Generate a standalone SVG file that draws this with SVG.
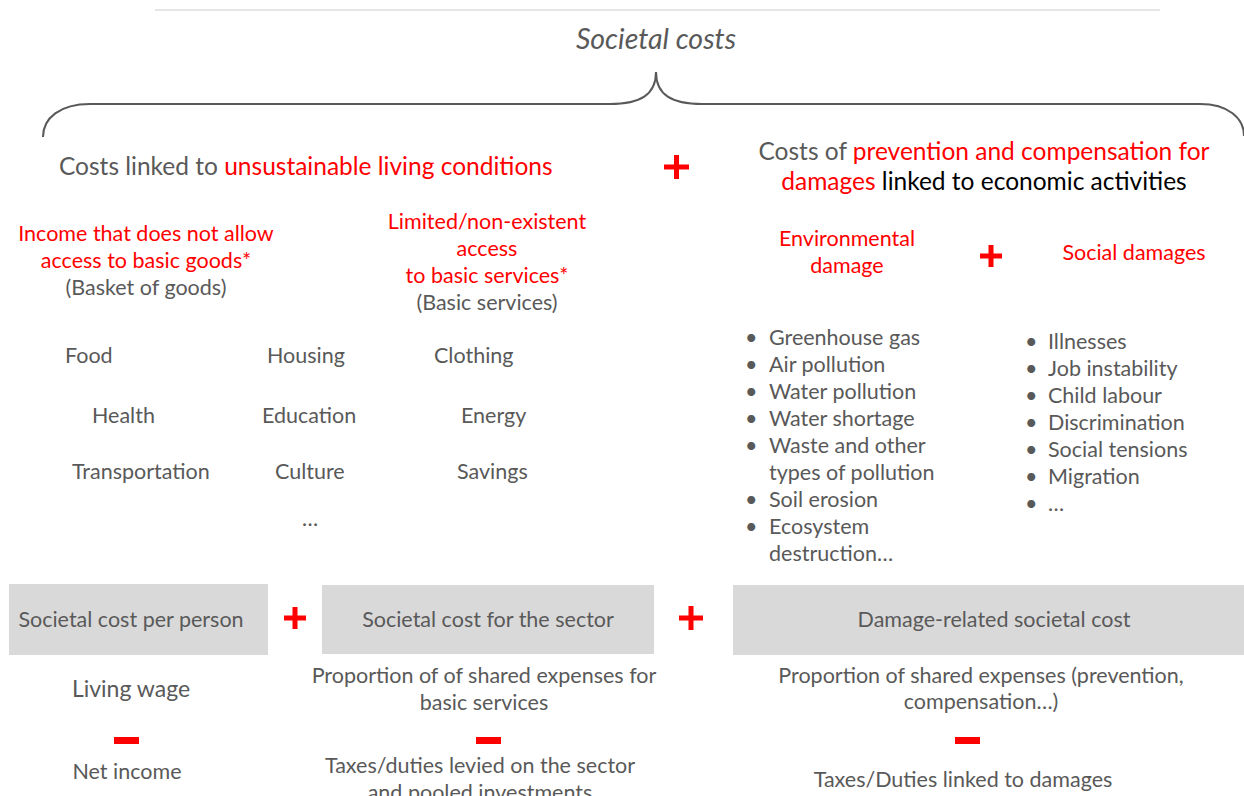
<svg xmlns="http://www.w3.org/2000/svg" width="1244" height="796" viewBox="0 0 1244 796">
<style>
text{font-family:"Source Sans Pro",Lato,"Liberation Sans",sans-serif;fill:#595959}
.r{fill:#ff0000}
.k{fill:#000}
.t{font-size:24.5px}
.m{font-size:21.5px}
.c{text-anchor:middle}
.box{fill:#d9d9d9}
.op{fill:#ff0000}
</style>
<rect width="1244" height="796" fill="#fff"/>
<line x1="155" y1="10" x2="1160" y2="10" stroke="#dcdcdc" stroke-width="1.5"/>
<g id="title">
<text x="656" y="49" class="c" font-size="28.5" font-style="italic">Societal costs</text>
</g>
<g id="connectors">
<path d="M43,137 C43,118 60,104 90,104 L610,104 C640,104 656,95 656,72 C656,95 672,104 702,104 L1200,104 C1228,104 1244,118 1244,136" fill="none" stroke="#595959" stroke-width="2"/>
</g>
<g id="living">
<text x="59" y="175" class="t">Costs linked to <tspan class="r">unsustainable living conditions</tspan></text>
</g>
<g id="plus-top">
<rect x="664" y="164.5" width="25" height="5" class="op"/>
<rect x="674" y="155" width="5" height="24" class="op"/>
</g>
<g id="damages">
<text x="984" y="160" class="t c">Costs of <tspan class="r">prevention and compensation for</tspan></text>
<text x="984" y="190" class="t c"><tspan class="r">damages</tspan> <tspan class="k">linked to economic activities</tspan></text>
</g>
<g id="income">
<text x="146" y="241" class="m c r">Income that does not allow</text>
<text x="146" y="268" class="m c r">access to basic goods*</text>
<text x="146" y="295" class="m c">(Basket of goods)</text>
</g>
<g id="access">
<text x="487" y="229" class="m c r">Limited/non-existent</text>
<text x="487" y="256" class="m c r">access</text>
<text x="487" y="283" class="m c r">to basic services*</text>
<text x="487" y="310" class="m c">(Basic services)</text>
</g>
<g id="items">
<text x="65" y="363" class="m">Food</text>
<text x="267" y="363" class="m">Housing</text>
<text x="434" y="363" class="m">Clothing</text>
<text x="92" y="423" class="m">Health</text>
<text x="262" y="423" class="m">Education</text>
<text x="461" y="423" class="m">Energy</text>
<text x="72" y="479" class="m">Transportation</text>
<text x="275" y="479" class="m">Culture</text>
<text x="457" y="479" class="m">Savings</text>
<text x="310" y="526" class="m c">…</text>
</g>
<g id="env">
<text x="847" y="246" class="m c r">Environmental</text>
<text x="847" y="273" class="m c r">damage</text>
</g>
<g id="plus-mid">
<rect x="980" y="253.5" width="22" height="5" class="op"/>
<rect x="988.5" y="245" width="5" height="22" class="op"/>
</g>
<g id="social">
<text x="1134" y="260" class="m c r">Social damages</text>
</g>
<g id="env-list">
<text x="745" y="345" class="m">•</text><text x="769" y="345" class="m">Greenhouse gas</text>
<text x="745" y="372" class="m">•</text><text x="769" y="372" class="m">Air pollution</text>
<text x="745" y="399" class="m">•</text><text x="769" y="399" class="m">Water pollution</text>
<text x="745" y="426" class="m">•</text><text x="769" y="426" class="m">Water shortage</text>
<text x="745" y="453" class="m">•</text><text x="769" y="453" class="m">Waste and other</text>
<text x="769" y="480" class="m">types of pollution</text>
<text x="745" y="507" class="m">•</text><text x="769" y="507" class="m">Soil erosion</text>
<text x="745" y="534" class="m">•</text><text x="769" y="534" class="m">Ecosystem</text>
<text x="769" y="561" class="m">destruction…</text>
</g>
<g id="social-list">
<text x="1025" y="349" class="m">•</text><text x="1048" y="349" class="m">Illnesses</text>
<text x="1025" y="376" class="m">•</text><text x="1048" y="376" class="m">Job instability</text>
<text x="1025" y="403" class="m">•</text><text x="1048" y="403" class="m">Child labour</text>
<text x="1025" y="430" class="m">•</text><text x="1048" y="430" class="m">Discrimination</text>
<text x="1025" y="457" class="m">•</text><text x="1048" y="457" class="m">Social tensions</text>
<text x="1025" y="484" class="m">•</text><text x="1048" y="484" class="m">Migration</text>
<text x="1025" y="511" class="m">•</text><text x="1048" y="511" class="m">…</text>
</g>
<g id="box-person">
<rect x="9" y="584" width="259" height="71" class="box"/>
<text x="131" y="627" class="m c">Societal cost per person</text>
</g>
<g id="plus-b1">
<rect x="284" y="615.5" width="22" height="5" class="op"/>
<rect x="292.5" y="607" width="5" height="22" class="op"/>
</g>
<g id="box-sector">
<rect x="322" y="585" width="332" height="69" class="box"/>
<text x="488" y="627" class="m c">Societal cost for the sector</text>
</g>
<g id="plus-b2">
<rect x="679" y="615.5" width="24" height="5" class="op"/>
<rect x="688.5" y="606" width="5" height="24" class="op"/>
</g>
<g id="box-damage">
<rect x="733" y="585" width="511" height="70" class="box"/>
<text x="994" y="627" class="m c">Damage-related societal cost</text>
</g>
<g id="col1">
<text x="131" y="697" class="c" font-size="23">Living wage</text>
<rect x="114" y="737" width="25" height="7" class="op"/>
<text x="127" y="779" class="m c">Net income</text>
</g>
<g id="col2">
<text x="484" y="683" class="m c">Proportion of of shared expenses for</text>
<text x="484" y="710" class="m c">basic services</text>
<rect x="476" y="737" width="25" height="7" class="op"/>
<text x="480" y="773" class="m c">Taxes/duties levied on the sector</text>
<text x="480" y="800" class="m c">and pooled investments</text>
</g>
<g id="col3">
<text x="981" y="683" class="m c">Proportion of shared expenses (prevention,</text>
<text x="981" y="709" class="m c">compensation…)</text>
<rect x="955" y="737" width="25" height="7" class="op"/>
<text x="963" y="787" class="m c">Taxes/Duties linked to damages</text>
</g>
</svg>
